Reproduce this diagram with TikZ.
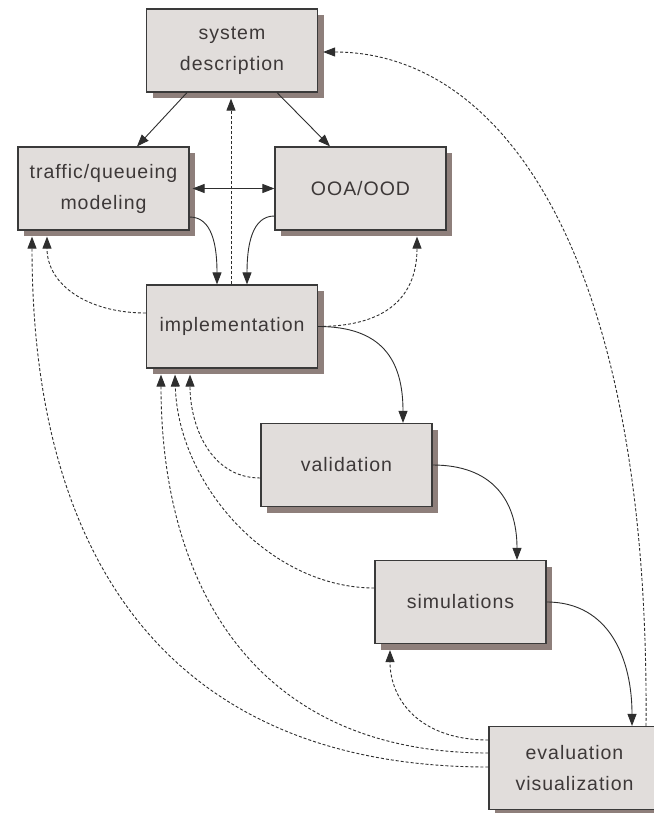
\documentclass[tikz,border=0pt]{standalone}
\usepackage{fontspec}
\newfontfamily\boxfont{Liberation Sans}[LetterSpace=5]
\usetikzlibrary{arrows.meta,shadows,calc}

\definecolor{boxfill}{HTML}{E1DDDB}
\definecolor{boxshadow}{HTML}{8E7F7B}
\definecolor{boxline}{HTML}{3A3A3A}
\definecolor{boxtext}{HTML}{3D3838}
\definecolor{wire}{HTML}{2E2E2E}

\tikzset{
  stage/.style={draw=boxline, line width=1.2pt, fill=boxfill,
    minimum width=171pt, minimum height=83pt, inner sep=0pt,
    align=center, text=boxtext,
    font={\boxfont\fontsize{19.5}{31}\selectfont},
    general shadow={fill=boxshadow, shadow xshift=6pt, shadow yshift=-6pt}},
  tip/.tip={Triangle[length=12pt,width=9pt]},
  flow/.style={draw=wire, line width=0.9pt, -tip},
  feedback/.style={draw=wire, line width=0.9pt, dash pattern=on 3pt off 2pt, -tip},
}

\begin{document}
\begin{tikzpicture}[x=1pt, y=-1pt]
  \fill[white] (0,0) rectangle (653,813);
  \useasboundingbox (0,0) rectangle (653,813);

  % process stages
  \node[stage] (sys)  at (232,50.5)   {system\\description};
  \node[stage] (trf)  at (103.5,188.5) {traffic/queueing\\modeling};
  \node[stage] (ooa)  at (360.5,188.5) {OOA/OOD};
  \node[stage] (impl) at (232,326.5)  {implementation};
  \node[stage] (val)  at (346.5,465)  {validation};
  \node[stage] (sim)  at (460.5,602)  {simulations};
  \node[stage] (evl)  at (574.5,768)  {evaluation\\visualization};

  % forward flow
  \draw[flow] ($(sys.south)+(-45,0)$) -- ($(trf.north)+(33.5,0)$);
  \draw[flow] ($(sys.south)+(45,0)$) -- ($(ooa.north)+(-30.5,0)$);
  \draw[flow, tip-tip] ($(trf.east)+(3,0)$) -- (ooa.west);
  \draw[flow] ($(trf.east)+(0,28.5)$) .. controls (212,217) and (217,245) .. ($(impl.north)+(-15,0)$);
  \draw[flow] ($(ooa.west)+(0,27.5)$) .. controls (252,216) and (247,245) .. ($(impl.north)+(15,0)$);
  \draw[flow] (impl.east) .. controls (382,326.5) and (403,360) .. ($(val.north)+(56.5,0)$);
  \draw[flow] (val.east) .. controls (492,465) and (517,500) .. ($(sim.north)+(56.5,0)$);
  \draw[flow] (sim.east) .. controls (610,602) and (632,660) .. ($(evl.north)+(57.5,0)$);

  % feedback loops
  \draw[feedback] ($(impl.north)+(-1,0)$) -- ($(sys.south)+(-1,6)$);
  \draw[feedback] ($(impl.west)+(0,-13.5)$) .. controls (88,313) and (47,285) .. ($(trf.south)+(-56.5,6)$);
  \draw[feedback] (impl.east) .. controls (392,326.5) and (417,292) .. ($(ooa.south)+(56.5,6)$);
  \draw[feedback] ($(val.west)+(0,13)$) .. controls (210,478) and (190,425) .. ($(impl.south)+(-42,6)$);
  \draw[feedback] ($(sim.west)+(0,-14)$) .. controls (270,588) and (178,485) .. ($(impl.south)+(-57,6)$);
  \draw[feedback] ($(evl.west)+(0,-15)$) .. controls (250,753) and (161,580) .. ($(impl.south)+(-71,6)$);
  \draw[feedback] ($(evl.west)+(0,-1)$) .. controls (170,767) and (32,560) .. ($(trf.south)+(-71.5,6)$);
  \draw[feedback] ($(evl.west)+(0,-28)$) .. controls (420,740) and (390,700) .. ($(sim.south)+(-70.5,6)$);
  \draw[feedback] ($(evl.north)+(71.5,0)$) .. controls (650,250) and (500,52) .. ($(sys.east)+(5,1.5)$);
\end{tikzpicture}
\end{document}
